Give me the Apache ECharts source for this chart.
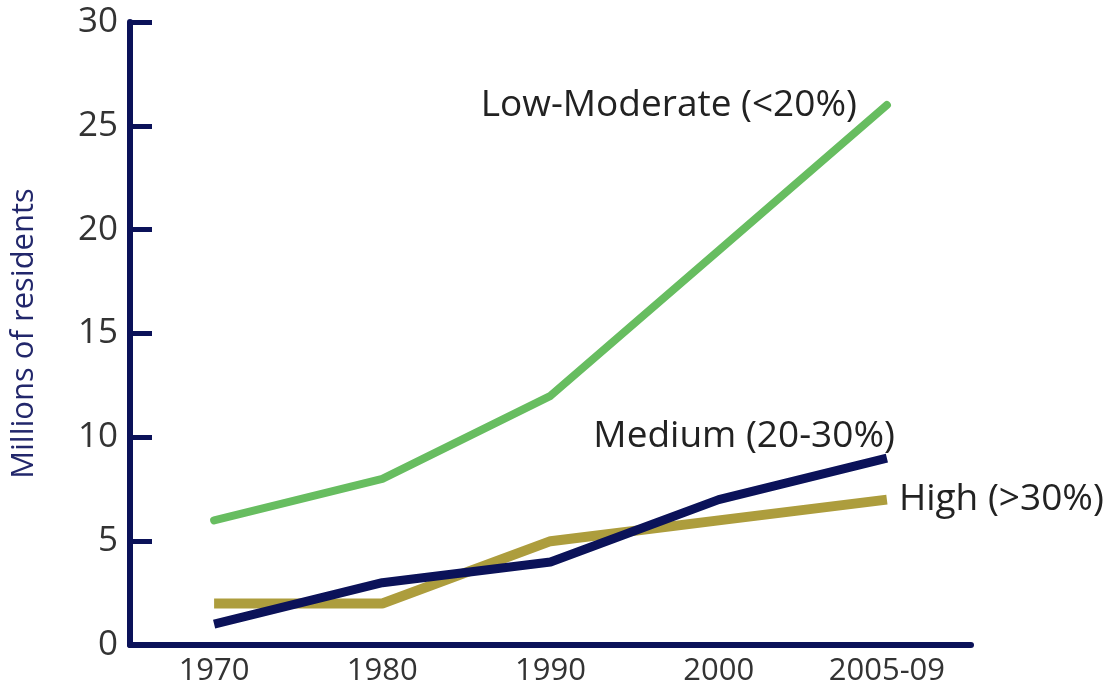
<!DOCTYPE html>
<html>
<head>
<meta charset="utf-8">
<script src="https://cdn.jsdelivr.net/npm/echarts@6/dist/echarts.min.js"></script>
<style>
  html, body { margin: 0; padding: 0; background: #fff; }
  #main { width: 1120px; height: 695px; }
</style>
</head>
<body>
<div id="main"></div>
<script>
  // categories and values
  var years = ['1970', '1980', '1990', '2000', '2005-09'];
  var lowModerate = [6, 8, 12, 19, 26];
  var medium = [1, 3, 4, 7, 9];
  var high = [2, 2, 5, 6, 7];

  var navy = '#0b1259';
  var font = 'Open Sans';

  var chart = echarts.init(document.getElementById('main'));
  chart.setOption({
    animation: false,
    grid: { left: 130, right: 149, top: 22, bottom: 50, outerBoundsMode: 'none' },
    xAxis: {
      type: 'category',
      data: years,
      boundaryGap: true,
      axisLine: { lineStyle: { color: navy, width: 6 } },
      axisTick: { inside: true, length: 20, alignWithLabel: false, lineStyle: { color: navy, width: 5 } },
      axisLabel: { color: '#333', fontSize: 31, fontFamily: font, margin: 11 }
    },
    yAxis: {
      type: 'value',
      min: 0,
      max: 30,
      interval: 5,
      name: 'Millions of residents',
      nameLocation: 'middle',
      nameGap: 90,
      nameTextStyle: { color: '#22276b', fontSize: 31, fontFamily: font },
      splitLine: { show: false },
      axisLine: { show: true, lineStyle: { color: navy, width: 6 } },
      axisTick: { show: true, inside: true, length: 22, lineStyle: { color: navy, width: 5 } },
      axisLabel: { color: '#333', fontSize: 35, fontFamily: font, margin: 12 }
    },
    series: [
      {
        name: 'Low-Moderate (<20%)',
        type: 'line',
        data: lowModerate,
        symbol: 'none',
        lineStyle: { color: '#67bd60', width: 8, cap: 'round' },
        endLabel: {
          show: true,
          formatter: '{a}',
          color: '#222',
          fontSize: 37,
          fontFamily: font,
          align: 'right',
          offset: [-38, 0]
        }
      },
      {
        name: 'High (>30%)',
        type: 'line',
        data: high,
        symbol: 'none',
        lineStyle: { color: '#ad9d3d', width: 10 },
        endLabel: {
          show: true,
          formatter: '{a}',
          color: '#222',
          fontSize: 37,
          fontFamily: font,
          offset: [4, 0]
        }
      },
      {
        name: 'Medium (20-30%)',
        type: 'line',
        data: medium,
        symbol: 'none',
        lineStyle: { color: navy, width: 9 },
        endLabel: {
          show: true,
          formatter: '{a}',
          color: '#222',
          fontSize: 37,
          fontFamily: font,
          align: 'right',
          offset: [0, -22]
        }
      }
    ]
  });
</script>
</body>
</html>
